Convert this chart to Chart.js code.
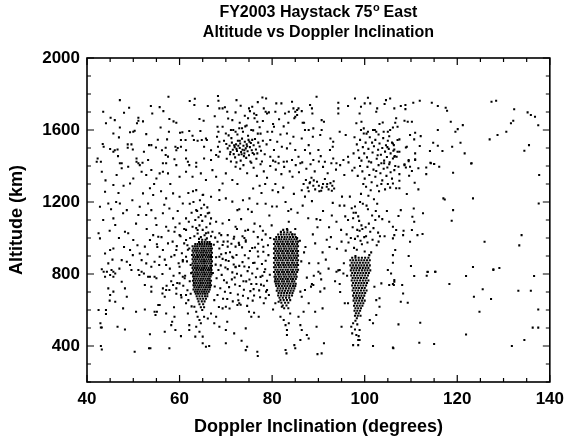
<!DOCTYPE html>
<html>
<head>
<meta charset="utf-8">
<script src="https://cdn.jsdelivr.net/npm/chart.js@4.4.0/dist/chart.umd.min.js"></script>
<style>
  html, body { margin: 0; padding: 0; background: #fff; }
</style>
</head>
<body>
<canvas id="chart" width="571" height="439"></canvas>
<script>
// --- Labels ---
const titleLine1 = ['FY2003 Haystack 75', 'o', ' East'];
const titleLine2 = 'Altitude vs Doppler Inclination';
const xTitle = 'Doppler Inclination (degrees)';
const yTitle = 'Altitude (km)';
const xTicks = [40, 60, 80, 100, 120, 140];
const yTicks = [400, 800, 1200, 1600, 2000];

// --- Observations: [inclination (deg), altitude (km)] ---
const upperLeft = [[43.5,1701],[44.1,1637],[43.4,1522],[43.6,1507],[45.1,1668],[46.0,1655],[45.7,1581],[47.1,1766],[48.0,1696],[49.1,1724],[47.1,1614],[46.9,1559],[45.0,1494],[45.7,1479],[46.0,1488],[46.6,1492],[46.7,1455],[48.8,1520],[49.6,1520],[48.8,1501],[49.9,1492],[49.3,1588],[50.0,1590],[50.3,1596],[50.8,1637],[51.1,1668],[51.1,1651],[52.1,1648],[52.8,1577],[53.4,1516],[53.9,1516],[52.3,1479],[53.8,1733],[54.1,1692],[54.9,1503],[55.3,1546],[55.7,1727],[55.9,1614],[56.5,1705],[56.2,1487],[57.0,1501],[57.0,1461],[57.3,1548],[57.6,1785],[57.8,1661],[57.7,1590],[58.7,1648],[59.3,1640],[59.1,1507],[59.6,1500],[59.3,1488],[60.1,1585],[60.6,1587],[60.3,1544],[60.3,1507],[61.3,1544],[61.4,1488],[62.2,1761],[63.3,1774],[63.2,1739],[62.1,1594],[62.8,1568],[63.1,1544],[63.9,1540],[64.3,1661],[65.2,1651],[64.5,1594],[64.8,1544],[65.3,1507],[65.7,1553],[65.9,1544],[66.1,1733],[66.8,1488],[67.6,1676],[68.3,1789],[68.4,1763],[68.6,1720],[68.2,1618],[68.4,1590],[68.1,1563],[68.6,1535],[68.3,1507],[68.7,1479],[68.4,1452],[69.3,1720],[69.8,1726],[70.3,1701],[70.5,1664],[71.4,1655],[72.3,1766],[69.3,1618],[70.0,1581],[71.1,1600],[72.1,1590],[42.3,1442],[43.0,1424],[47.5,1415],[50.7,1442],[51.1,1415],[52.0,1418],[53.2,1433],[56.4,1415],[57.5,1452],[58.9,1437],[61.4,1442],[61.8,1424],[63.6,1418],[65.3,1442],[66.8,1433],[67.9,1461]];

const upperMid = [[72.1,1698],[74.1,1679],[74.8,1665],[75.2,1705],[75.0,1720],[75.7,1729],[76.1,1692],[76.2,1665],[76.8,1646],[76.6,1683],[77.9,1781],[78.7,1775],[78.2,1720],[78.6,1701],[78.9,1692],[79.3,1698],[80.9,1748],[82.0,1748],[80.7,1701],[80.2,1633],[80.4,1618],[80.0,1590],[82.8,1692],[83.6,1701],[84.3,1757],[84.6,1720],[85.0,1701],[85.4,1711],[85.7,1720],[85.4,1683],[85.0,1674],[84.8,1665],[86.4,1705],[86.6,1640],[86.9,1640],[87.1,1600],[87.9,1600],[88.2,1739],[88.6,1720],[88.7,1692],[89.6,1785],[90.7,1655],[91.2,1646],[90.7,1600],[90.4,1572],[88.9,1609],[88.8,1563],[92.6,1553],[93.2,1535],[93.1,1507],[94.6,1590],[95.9,1572],[94.3,1751],[94.3,1720],[94.3,1692],[96.4,1733],[97.9,1775],[98.9,1692],[99.2,1729],[100.0,1748],[100.7,1779],[101.2,1748],[102.5,1701],[102.7,1720],[104.3,1744],[104.6,1766],[105.5,1775],[106.4,1720],[106.8,1665],[98.2,1637],[99.3,1646],[99.8,1609],[99.8,1581],[100.7,1590],[101.8,1600],[102.5,1590],[103.2,1633],[103.9,1642],[105.0,1590],[105.5,1600],[106.1,1614],[79.6,1544],[81.1,1535],[82.1,1507],[83.2,1498],[83.9,1525],[85.0,1489],[85.7,1451],[87.1,1489],[88.2,1470],[88.9,1433],[90.0,1489],[90.5,1455],[91.4,1424],[92.5,1489],[93.2,1442],[93.9,1415],[95.4,1433],[96.4,1451],[80.4,1489],[81.4,1451],[82.5,1424],[84.3,1433],[86.1,1415],[87.9,1516],[84.6,1563],[83.2,1581],[86.4,1553],[80.7,1424],[79.6,1451],[73.0,1640],[73.5,1610],[74.5,1625],[75.5,1600],[77.3,1615],[78.0,1650],[79.0,1590],[73.2,1735],[76.9,1755],[77.5,1580],[81.5,1660],[82.5,1620],[83.5,1640],[81.8,1575]];

const upperRight = [[107.8,1733],[108.8,1739],[108.8,1716],[110.5,1751],[111.9,1762],[114.5,1751],[115.8,1733],[117.5,1724],[117.8,1707],[108.6,1651],[109.3,1646],[110.2,1646],[107.1,1618],[106.6,1640],[107.5,1548],[107.1,1544],[109.8,1572],[110.7,1548],[112.1,1566],[110.9,1585],[106.1,1525],[106.3,1516],[106.4,1492],[107.1,1479],[107.5,1479],[106.4,1451],[106.9,1451],[106.1,1442],[108.9,1503],[109.1,1507],[110.9,1470],[111.9,1511],[109.5,1433],[110.9,1437],[108.6,1409],[114.1,1483],[114.8,1529],[115.8,1512],[116.8,1483],[115.8,1600],[118.6,1646],[119.6,1590],[120.1,1605],[121.2,1627],[120.7,1529],[118.9,1507],[121.6,1470],[123.1,1415],[114.3,1415],[115.0,1411],[127.4,1757],[128.4,1762],[132.3,1715],[127.0,1548],[128.7,1572],[130.6,1590],[131.6,1637],[132.1,1651],[135.2,1698],[135.9,1683],[136.8,1674],[137.5,1626],[134.5,1485],[135.5,1516]];

const midLeft = [[42.1,1424],[43.2,1368],[43.9,1257],[42.8,1174],[44.6,1192],[45.7,1294],[46.1,1072],[45.7,1109],[42.5,1026],[42.8,998],[43.9,914],[45.0,933],[45.7,942],[44.6,859],[43.2,826],[44.3,813],[45.3,822],[47.1,1415],[47.5,1387],[46.4,1350],[48.9,1396],[49.3,1303],[50.0,1331],[47.1,1192],[47.8,1137],[48.6,1155],[48.9,1026],[48.2,1035],[50.0,989],[49.3,933],[47.5,877],[48.6,868],[49.3,850],[50.7,1424],[51.4,1405],[51.8,1368],[52.8,1350],[53.9,1378],[55.0,1331],[55.7,1359],[56.4,1368],[57.5,1359],[52.1,1248],[53.6,1276],[54.3,1239],[53.2,1192],[51.4,1174],[51.1,1128],[52.8,1128],[53.9,1155],[55.0,1072],[55.4,1007],[54.3,1016],[53.6,989],[52.5,952],[51.4,914],[51.8,877],[52.8,859],[53.9,840],[51.1,822],[54.6,868],[55.7,896],[57.1,1415],[59.3,1405],[60.0,1340],[61.4,1368],[62.1,1405],[58.6,1248],[57.1,1220],[60.0,1229],[60.7,1192],[57.8,1164],[56.4,1137],[58.6,1109],[60.0,1081],[61.4,1109],[57.1,1063],[58.9,1035],[60.0,1016],[57.5,970],[56.4,933],[59.3,933],[58.2,896],[60.7,877],[57.1,850],[60.0,840],[61.4,989],[62.1,942],[61.4,896],[63.6,1396],[62.8,1340],[64.6,1359],[65.7,1322],[67.1,1377],[67.9,1340],[68.6,1266],[69.3,1303],[70.0,1359],[71.4,1322],[72.1,1396],[63.6,1266],[65.0,1239],[66.8,1229],[68.6,1211],[70.0,1220],[71.4,1202],[72.5,1155],[63.6,1155],[64.6,1128],[66.1,1137],[66.8,1109],[67.9,1090],[69.3,1081],[70.7,1100],[72.1,1063],[62.8,1063],[63.9,1044],[65.7,1026],[67.1,1035],[68.6,1026],[70.4,1016],[71.8,1007],[72.1,952],[70.4,952],[69.3,961],[68.2,979],[71.4,896],[70.0,877],[68.6,896],[72.1,840],[44.0,1320],[46.8,1250],[45.2,1160],[47.9,1290],[49.8,1210],[50.6,1080],[46.9,1000],[44.9,1040],[48.0,950],[50.9,960],[52.9,1050],[54.8,1110],[56.0,1260],[58.0,1300],[59.6,1150],[61.9,1250],[61.0,1050],[56.7,1185],[54.5,1300],[46.3,1200],[43.5,1100],[45.5,880],[47.0,830],[49.9,905],[53.1,910],[55.1,965]];

const midMidTop = [[72.3,1420],[73.1,1385],[73.8,1405],[74.6,1360],[75.3,1425],[76.0,1390],[76.7,1345],[77.5,1410],[78.2,1370],[78.9,1335],[79.6,1400],[80.2,1430],[80.8,1380],[81.4,1415],[82.0,1355],[82.6,1395],[83.2,1425],[83.8,1370],[84.4,1340],[85.1,1405],[85.8,1365],[86.5,1420],[87.4,1385],[88.3,1410],[89.2,1370],[90.1,1425],[91.0,1395],[92.0,1360],[92.8,1415],[93.8,1380],[94.7,1405],[95.6,1350],[96.5,1420],[97.3,1375]];

const midMid = [[72.5,1300],[81.3,1255],[88.2,1310],[75.1,1220],[93.4,1275],[78.6,1190],[84.7,1245],[91.0,1150],[73.7,1210],[86.4,1265],[80.0,1175],[95.1,1230],[77.3,1290],[89.6,1105],[82.9,1200],[74.8,1160],[92.3,1060],[79.4,1125],[87.1,1230],[94.6,1180],[76.2,1080],[85.5,1140],[81.9,1035],[90.2,1260],[73.3,1105],[88.8,1020],[83.6,1090],[95.8,1120],[78.0,1040],[86.0,985],[92.7,1005],[75.6,1145],[80.7,1300],[94.0,940],[84.1,1160],[90.9,920],[77.7,1250],[87.8,1110],[82.4,1280],[93.1,1195],[72.9,1160],[79.9,1070],[89.3,970],[85.0,1050],[91.6,880],[76.9,1005],[94.9,1045],[88.0,860],[83.2,1050],[90.4,1100],[86.9,920],[92.2,830],[74.2,1040],[95.5,860],[89.0,790],[93.6,760],[87.5,780],[91.3,720],[95.0,980],[86.6,1180],[88.6,1205],[92.9,1125],[94.3,820],[90.0,860],[87.2,950],[89.8,1060],[95.9,930],[91.8,990],[86.3,870],[93.9,1090],[88.4,730],[90.6,770],[94.7,700],[96.2,790],[92.4,950],[85.4,1000],[84.4,1020],[79.6,1000],[77.8,990],[74.0,1000],[76.0,1035],[73.6,1010],[74.8,1045],[72.4,1050],[78.6,1020],[77.4,1065],[81.0,1175],[83.5,1150],[75.9,1275],[78.5,1300],[80.1,1265],[76.8,1190]];

const cluster90 = [[86.8,1300],[87.3,1322],[87.7,1280],[88.1,1305],[88.5,1335],[88.9,1290],[89.3,1270],[89.7,1312],[90.1,1290],[90.6,1262],[91.0,1300],[91.4,1328],[91.8,1285],[92.2,1270],[92.6,1305],[93.0,1290],[93.3,1315],[90.8,1280],[91.9,1300],[89.0,1320],[87.9,1260],[92.9,1262]];

const midRight = [[106.6,1400],[107.3,1396],[108.6,1405],[108.9,1392],[109.8,1396],[109.5,1427],[110.9,1433],[111.6,1387],[113.3,1392],[114.2,1418],[115.0,1411],[116.1,1396],[106.4,1377],[107.5,1355],[110.2,1372],[113.3,1355],[109.6,1346],[106.1,1303],[107.5,1318],[110.8,1307],[106.8,1276],[107.5,1276],[111.6,1270],[109.1,1244],[119.1,1363],[123.0,1414],[117.0,1220],[117.3,1214],[123.4,1220],[137.7,1350],[137.6,1192],[107.8,1155],[110.6,1164],[112.6,1137],[107.3,1122],[110.3,1118],[110.7,1090],[119.1,1155],[118.8,1096],[106.1,1063],[106.8,1044],[108.4,1040],[110.2,1044],[106.4,1016],[108.3,1016],[111.4,1016],[112.5,1022],[106.1,998],[109.8,979],[125.9,979],[133.9,1016],[133.4,959],[106.6,933],[106.1,905],[109.5,900],[106.1,863],[110.0,844],[123.4,839],[127.8,826],[129.1,833],[113.6,811],[115.3,813]];

const lowerLeft = [[42.9,526],[43.0,503],[43.2,503],[43.0,400],[43.2,381],[42.5,600],[44.1,600],[44.1,578],[43.6,813],[43.9,785],[45.0,794],[45.7,785],[46.1,803],[45.7,813],[44.6,720],[45.0,683],[44.9,652],[46.1,646],[45.7,702],[47.5,757],[48.2,720],[48.6,674],[47.8,609],[46.6,507],[48.2,492],[50.3,368],[50.6,590],[49.6,822],[51.3,794],[51.8,813],[52.3,803],[53.2,785],[53.6,785],[54.6,785],[55.0,776],[52.5,739],[53.9,729],[53.9,702],[56.4,720],[56.3,692],[57.1,711],[57.8,711],[58.6,739],[56.8,674],[55.7,628],[55.1,590],[54.8,572],[52.5,603],[54.6,590],[53.6,465],[53.4,387],[53.7,387],[55.4,628],[57.1,581],[56.8,479],[57.8,387],[58.2,516],[58.4,535],[58.9,563],[59.1,489],[60.3,455],[58.8,615],[60.3,683],[59.3,720],[60.0,748],[60.7,785],[61.4,683],[61.8,581],[62.1,516],[62.1,489],[61.4,637],[61.1,776],[63.6,590],[63.9,563],[64.3,544],[64.6,526],[64.3,479],[65.0,452],[65.0,415],[65.7,396],[66.4,400],[63.2,618],[65.3,563],[66.1,553],[63.6,507],[63.4,452],[67.5,526],[67.9,563],[69.3,609],[70.0,618],[70.3,535],[70.0,489],[70.0,415],[71.8,470],[72.5,628],[68.6,507],[66.8,581]];

const lowerMid = [[72.9,637],[74.3,498],[73.4,429],[74.6,396],[74.3,377],[75.5,563],[76.1,585],[77.1,563],[76.8,368],[76.9,344],[75.0,590],[78.2,637],[78.6,665],[78.9,711],[79.3,683],[80.2,603],[80.7,637],[81.4,646],[81.8,563],[82.5,544],[82.9,516],[83.2,489],[83.2,461],[83.6,526],[83.9,581],[82.1,618],[82.9,378],[83.1,359],[84.8,405],[85.0,387],[86.1,433],[86.4,489],[86.1,516],[85.7,563],[86.8,590],[86.4,674],[87.1,711],[87.9,637],[86.1,702],[87.5,461],[87.9,442],[89.3,590],[90.4,702],[90.9,609],[91.2,415],[89.6,507],[90.7,359],[89.8,355],[88.6,744],[88.9,739],[90.0,813],[90.4,803],[94.6,744],[95.4,803],[95.7,637],[96.4,637],[95.0,507],[101.1,544],[101.8,526],[102.5,572],[103.2,618],[102.5,655],[103.2,665],[102.1,729],[103.6,748],[105.3,739],[106.1,744],[106.4,766],[105.7,803],[105.0,822],[101.8,400],[106.2,387],[93.9,813],[94.6,822]];

const lowerRight = [[106.4,757],[106.3,739],[108.1,739],[108.3,692],[107.8,646],[109.3,640],[110.7,789],[113.4,790],[113.6,813],[115.2,813],[118.3,744],[121.9,789],[123.6,674],[125.5,715],[127.3,661],[124.8,590],[127.8,822],[133.2,707],[135.9,707],[136.6,789],[137.5,603],[136.3,502],[137.5,502],[134.5,433],[131.8,400],[107.3,520],[112.0,529],[111.8,418],[115.0,411],[121.9,464],[106.1,391]];

const cluster72High = [[69.6,1540],[70.1,1522],[70.4,1498],[70.8,1512],[71.0,1478],[71.3,1530],[71.5,1490],[71.7,1466],[71.9,1505],[72.2,1520],[72.4,1484],[72.6,1540],[72.8,1462],[73.0,1500],[73.1,1525],[73.3,1478],[73.5,1552],[73.6,1490],[73.8,1512],[74.0,1470],[74.1,1535],[74.3,1498],[74.5,1520],[74.7,1482],[74.9,1545],[75.0,1460],[75.2,1505],[75.4,1528],[75.6,1488],[75.8,1472],[76.0,1515],[76.3,1550],[76.5,1492],[76.8,1470],[77.0,1530],[77.3,1508],[77.6,1485],[78.0,1540],[78.4,1465],[78.8,1520],[70.2,1440],[71.1,1425],[72.0,1448],[73.2,1430],[74.4,1445],[75.5,1418],[76.6,1440],[77.8,1425],[72.5,1575],[73.7,1590],[74.8,1568],[75.9,1598],[76.9,1580],[71.6,1600],[70.6,1570],[72.9,1610],[74.2,1620],[73.4,1465],[74.6,1510],[72.3,1495],[71.2,1555],[75.1,1535],[73.9,1455],[76.1,1465],[70.9,1465],[72.7,1512],[74.0,1488],[73.0,1540],[75.7,1545],[71.8,1515]];

const column104High = [[97.8,1560],[98.3,1520],[98.6,1488],[99.0,1545],[99.3,1430],[99.6,1505],[99.9,1470],[100.2,1530],[100.5,1448],[100.8,1495],[101.1,1560],[101.4,1420],[101.7,1475],[102.0,1510],[102.3,1545],[102.6,1440],[102.9,1490],[103.2,1525],[103.5,1462],[103.8,1500],[104.0,1555],[104.2,1430],[104.4,1480],[104.6,1515],[104.8,1450],[105.0,1540],[105.2,1495],[105.4,1420],[105.6,1470],[105.9,1530],[106.2,1485],[106.5,1455],[103.0,1575],[104.1,1590],[102.2,1600],[100.4,1580],[105.3,1565],[99.2,1600],[101.6,1530],[103.6,1415],[104.9,1505],[102.8,1460],[100.9,1425],[98.8,1445],[97.6,1470],[99.0,1400],[99.5,1370],[100.0,1330],[100.6,1395],[101.0,1350],[101.5,1310],[101.9,1380],[102.3,1340],[102.7,1290],[103.0,1405],[103.4,1360],[103.8,1320],[104.1,1385],[104.4,1270],[104.7,1345],[105.0,1300],[105.3,1410],[105.6,1365],[105.9,1330],[104.2,1415],[103.1,1260],[101.3,1265],[100.3,1285],[102.5,1372],[104.9,1392],[105.5,1280],[99.7,1300],[98.5,1345],[97.8,1390],[103.6,1300]];

const column100Mid = [[96.8,1230],[99.6,1190],[102.4,1150],[97.5,1110],[100.9,1080],[98.4,1045],[103.3,1010],[99.0,1200],[97.2,1165],[101.6,1125],[98.8,1095],[100.2,1060],[102.9,1030],[97.9,995],[100.4,1180],[98.1,1140],[103.8,1105],[99.3,1070],[101.2,1035],[97.0,1000],[102.0,1215],[100.7,1160],[98.6,1120],[101.9,1055],[97.4,1060],[99.9,1005],[102.6,960],[98.3,935],[100.6,975],[97.7,945],[101.4,920],[99.4,965],[98.0,900],[96.5,975],[100.0,925],[101.0,905],[99.5,1050],[97.6,1140],[102.3,1100],[98.9,1040],[100.3,1010],[103.1,1120],[97.9,1175],[96.4,1100],[96.1,1020],[95.6,1180],[104.3,1010],[104.8,1150],[105.3,1090],[103.0,980],[99.1,985],[101.7,990],[98.5,1010],[100.8,1235],[99.2,1245],[102.7,1190]];

const column100Tail = [[97.1,507],[97.5,526],[97.9,492],[98.2,461],[98.9,489],[98.6,433],[98.9,433],[97.5,405],[98.6,405],[98.0,540],[98.4,520],[97.3,470],[98.7,455]];

const region72Low = [[67.4,962],[70.9,921],[74.3,987],[68.9,848],[77.0,897],[72.8,973],[75.2,928],[69.3,884],[78.1,951],[71.4,809],[73.6,866],[76.3,947],[67.9,893],[70.2,752],[74.7,816],[78.6,874],[72.1,838],[69.8,701],[75.9,861],[68.4,822],[77.5,784],[71.7,853],[73.9,712],[76.8,829],[70.6,872],[67.6,731],[74.1,904],[72.6,686],[78.9,763],[69.1,795],[75.5,744],[71.2,968],[73.3,791],[77.2,709],[68.6,942],[76.1,681],[70.4,827],[74.8,665],[72.3,906],[78.3,811],[67.2,806],[69.6,765],[75.0,838],[73.0,733],[71.0,694],[77.8,856],[68.2,683],[76.5,782],[74.4,759],[70.0,916],[72.9,845],[78.7,702],[69.4,662],[75.7,803],[71.9,781],[67.8,852],[73.7,679],[76.9,925],[70.7,727],[74.9,887],[68.8,721],[77.4,671],[72.4,801],[75.3,705],[69.9,836],[78.2,735],[71.5,648],[73.5,948],[76.6,744],[68.0,776],[74.6,623],[70.3,661],[72.0,742],[77.9,790],[69.0,910],[75.8,652],[71.3,770],[73.2,629],[76.2,862],[67.5,655],[74.0,842],[70.8,608],[78.5,826],[72.7,654],[68.5,617],[76.0,716],[79.2,905],[79.5,796],[79.1,960],[67.7,1002],[69.0,1016],[70.4,981],[71.7,996],[72.9,961],[74.3,979],[75.7,944],[77.0,968],[78.1,924],[73.8,760],[71.6,890],[69.5,980],[75.1,769],[77.6,741]];

const region58 = [[58.5,980],[59.4,955],[60.2,1010],[61.0,970],[61.8,935],[62.3,1000],[58.9,905],[60.5,915],[61.6,870],[62.4,850],[59.8,860],[57.9,830],[58.7,790],[60.0,805],[61.2,790],[62.2,760],[59.5,750],[60.8,735],[61.7,710],[62.4,690],[58.2,760],[57.2,735],[56.3,800],[55.6,850],[56.8,880],[55.2,950],[56.1,1005],[57.6,1040],[59.1,1060],[61.4,1045],[62.0,1090],[62.6,1140],[62.2,1190],[61.7,960],[60.7,870],[62.5,805],[61.9,655],[60.4,670],[59.3,690],[62.6,620]];

const above65 = [[63.2,1010],[63.9,1025],[64.6,1005],[65.4,1015],[66.2,1030],[63.6,1055],[64.3,1070],[65.0,1045],[65.8,1060],[66.6,1080],[63.4,1100],[64.1,1115],[64.9,1095],[65.6,1120],[66.4,1140],[63.8,1150],[64.7,1165],[65.3,1185],[66.0,1170],[63.0,1200],[64.4,1210],[65.1,1240],[62.9,1260],[66.8,1010],[64.2,995],[65.9,998]];

// Dense cores: one altitude (km) per row, with the inclinations read along it
const core65Rows = [
  [990,[64.9,65.6]],
  [978,[64.2,64.8,65.4,66.0,66.5]],
  [966,[63.4,63.9,64.4,64.9,65.4,65.9,66.4,66.8]],
  [954,[62.8,63.3,63.8,64.3,64.8,65.3,65.8,66.3,66.8]],
  [942,[63.0,63.5,64.0,64.6,65.1,65.6,66.1,66.6,67.0]],
  [930,[62.8,63.3,63.8,64.3,64.8,65.3,65.8,66.3,66.8]],
  [918,[63.0,63.6,64.1,64.6,65.1,65.6,66.0,66.5,67.0]],
  [906,[62.7,63.2,63.8,64.3,64.8,65.3,65.8,66.3,66.8]],
  [894,[63.0,63.5,64.0,64.5,65.0,65.6,66.1,66.6,67.0]],
  [882,[62.8,63.3,63.8,64.3,64.8,65.3,65.8,66.3,66.8]],
  [870,[63.0,63.5,64.1,64.6,65.1,65.5,66.0,66.5,67.0]],
  [858,[62.8,63.3,63.8,64.3,64.8,65.3,65.8,66.3,66.8]],
  [846,[63.0,63.5,64.0,64.5,65.0,65.5,66.0,66.6,67.0]],
  [834,[62.8,63.3,63.8,64.3,64.8,65.3,65.8,66.3,66.8]],
  [822,[63.0,63.6,64.1,64.6,65.1,65.6,66.1,66.5,66.9]],
  [810,[62.8,63.3,63.8,64.3,64.8,65.3,65.8,66.3,66.8]],
  [798,[63.0,63.5,64.0,64.5,65.0,65.5,66.0,66.5,66.9]],
  [786,[62.9,63.3,63.8,64.3,64.8,65.3,65.8,66.3,66.7]],
  [774,[63.1,63.6,64.1,64.6,65.1,65.6,66.1,66.5]],
  [762,[62.9,63.4,63.9,64.4,64.9,65.4,65.9,66.4,66.8]],
  [750,[63.1,63.6,64.1,64.6,65.1,65.6,66.1,66.6]],
  [738,[63.0,63.4,63.9,64.4,64.9,65.4,65.9,66.4,66.8]],
  [726,[63.2,63.7,64.2,64.7,65.2,65.7,66.2,66.6]],
  [714,[63.0,63.5,64.0,64.5,65.0,65.5,66.0,66.5]],
  [702,[63.3,63.8,64.3,64.8,65.3,65.8,66.3]],
  [690,[63.5,64.0,64.5,65.0,65.5,66.0]],
  [676,[63.7,64.3,64.9,65.5,66.0]],
  [662,[63.9,64.5,65.1,65.7]],
  [648,[64.1,64.8,65.4]],
  [632,[64.3,65.1]],
  [615,[64.6,65.3]],
  [600,[64.9]]
];

const core83Rows = [
  [1045,[82.4,83.3]],
  [1032,[81.9,82.6,83.3,84.0]],
  [1019,[81.3,81.9,82.5,83.1,83.7,84.3,84.9]],
  [1006,[80.9,81.5,82.1,82.7,83.3,83.9,84.5,85.1]],
  [993,[80.4,80.9,81.5,82.0,82.6,83.1,83.7,84.2,84.8,85.3]],
  [980,[80.7,81.2,81.8,82.3,82.9,83.4,84.0,84.5,85.1,85.6]],
  [967,[80.4,81.0,81.5,82.1,82.6,83.2,83.7,84.3,84.8,85.4]],
  [954,[80.7,81.3,81.8,82.4,82.9,83.5,84.0,84.6,85.1,85.6]],
  [941,[80.4,80.9,81.5,82.0,82.6,83.1,83.7,84.2,84.8,85.3]],
  [928,[80.7,81.2,81.8,82.3,82.9,83.4,84.0,84.5,85.1,85.6]],
  [915,[80.4,81.0,81.5,82.1,82.6,83.2,83.7,84.3,84.8,85.4]],
  [902,[80.7,81.3,81.8,82.4,82.9,83.5,84.0,84.6,85.1,85.6]],
  [889,[80.4,80.9,81.5,82.0,82.6,83.1,83.7,84.2,84.8,85.3]],
  [876,[80.7,81.2,81.8,82.3,82.9,83.4,84.0,84.5,85.1,85.6]],
  [863,[80.4,81.0,81.5,82.1,82.6,83.2,83.7,84.3,84.8,85.4]],
  [850,[80.7,81.3,81.8,82.4,82.9,83.5,84.0,84.6,85.1,85.6]],
  [837,[80.4,80.9,81.5,82.0,82.6,83.1,83.7,84.2,84.8,85.3]],
  [824,[80.7,81.2,81.8,82.3,82.9,83.4,84.0,84.5,85.1,85.6]],
  [811,[80.4,81.0,81.5,82.1,82.6,83.2,83.7,84.3,84.8,85.4]],
  [798,[80.7,81.3,81.8,82.4,82.9,83.5,84.0,84.6,85.1]],
  [785,[80.5,80.9,81.5,82.0,82.6,83.1,83.7,84.2,84.8,85.3]],
  [772,[80.7,81.2,81.8,82.3,82.9,83.4,84.0,84.5,85.1]],
  [759,[80.6,81.0,81.5,82.1,82.6,83.2,83.7,84.3,84.8]],
  [746,[80.8,81.3,81.8,82.4,82.9,83.5,84.0,84.6,85.1]],
  [733,[80.9,81.5,82.1,82.7,83.3,83.9,84.5,85.0]],
  [720,[81.2,81.8,82.4,83.0,83.6,84.2,84.8]],
  [707,[81.0,81.6,82.2,82.8,83.4,84.0,84.6]],
  [694,[81.4,82.0,82.6,83.2,83.8,84.4]],
  [681,[81.3,81.9,82.5,83.1,83.7,84.3]],
  [668,[81.6,82.3,83.0,83.7]],
  [655,[81.8,82.5,83.2,83.9]],
  [640,[82.0,82.8,83.5]],
  [625,[82.3,83.1]],
  [610,[82.6,83.5]]
];

const core100Rows = [
  [890,[97.3,98.0,98.7,99.4,100.1,100.8]],
  [876,[96.9,97.5,98.1,98.7,99.3,99.9,100.5,101.1]],
  [862,[97.2,97.8,98.4,99.0,99.6,100.2,100.8]],
  [848,[96.9,97.5,98.1,98.7,99.3,99.9,100.5,101.1]],
  [834,[97.2,97.8,98.4,99.0,99.6,100.2,100.8]],
  [820,[97.0,97.6,98.2,98.8,99.4,100.0,100.6,101.2]],
  [806,[97.3,97.9,98.5,99.1,99.7,100.3,100.9]],
  [792,[97.1,97.7,98.3,98.9,99.5,100.1,100.7]],
  [778,[97.4,98.0,98.6,99.2,99.8,100.4]],
  [764,[97.2,97.8,98.4,99.0,99.6,100.2,100.8]],
  [750,[97.5,98.1,98.7,99.3,99.9,100.5]],
  [736,[97.3,97.9,98.5,99.1,99.7,100.3]],
  [722,[97.6,98.2,98.8,99.4,100.0]],
  [708,[97.4,98.0,98.6,99.2,99.8,100.4]],
  [694,[97.7,98.3,98.9,99.5,100.1]],
  [680,[97.5,98.1,98.7,99.3,99.9]],
  [666,[97.8,98.4,99.0,99.6]],
  [652,[97.6,98.2,98.8,99.4,100.0]],
  [638,[97.9,98.5,99.1,99.7]],
  [624,[97.7,98.3,98.9,99.5]],
  [610,[98.0,98.6,99.2]],
  [596,[97.8,98.4,99.0]],
  [582,[98.1,98.7]],
  [568,[97.9,98.5,99.1]],
  [554,[98.3]]
];

// --- Build scatter data ---
const fromRows = rows => rows.flatMap(([alt, incs]) => incs.map(inc => [inc, alt]));
const allPoints = [].concat(
  upperLeft, upperMid, upperRight, midLeft, midMidTop, midMid, cluster90, midRight,
  lowerLeft, lowerMid, lowerRight, cluster72High, column104High, column100Mid,
  column100Tail, region72Low, region58, above65,
  fromRows(core65Rows), fromRows(core83Rows), fromRows(core100Rows)
).map(([x, y]) => ({ x, y }));

const FONT = "'Liberation Sans', Arial, Helvetica, sans-serif";

// Title with a superscript "o", centred over the plot
const titlePlugin = {
  id: 'twoLineTitle',
  afterDraw(chart) {
    const { ctx, chartArea } = chart;
    const cx = (chartArea.left + chartArea.right) / 2;
    const big = 'bold 16px ' + FONT;
    const small = 'bold 11px ' + FONT;
    ctx.save();
    ctx.fillStyle = '#000';
    ctx.textBaseline = 'middle';
    ctx.textAlign = 'left';
    ctx.font = big;
    const wa = ctx.measureText(titleLine1[0]).width;
    const wb = ctx.measureText(titleLine1[2]).width;
    ctx.font = small;
    const ws = ctx.measureText(titleLine1[1]).width;
    let x = cx - (wa + ws + wb) / 2;
    ctx.font = big;
    ctx.fillText(titleLine1[0], x, 13);
    x += wa;
    ctx.font = small;
    ctx.fillText(titleLine1[1], x + 0.5, 8);
    x += ws;
    ctx.font = big;
    ctx.fillText(titleLine1[2], x, 13);
    ctx.textAlign = 'center';
    ctx.fillText(titleLine2, cx, 33);
    ctx.restore();
  }
};

// Box round the plot, with inward tick marks on all four sides
const framePlugin = {
  id: 'frame',
  afterDraw(chart) {
    const { ctx, chartArea: a, scales: { x, y } } = chart;
    ctx.save();
    ctx.strokeStyle = '#000';
    ctx.lineWidth = 1.2;
    ctx.beginPath();
    for (let v = 40; v <= 140; v += 5) {
      const px = x.getPixelForValue(v);
      const len = v % 20 === 0 ? 7 : 4;
      ctx.moveTo(px, a.bottom); ctx.lineTo(px, a.bottom - len);
      ctx.moveTo(px, a.top); ctx.lineTo(px, a.top + len);
    }
    for (let v = 200; v <= 2000; v += 100) {
      const py = y.getPixelForValue(v);
      const len = v % 400 === 0 ? 7 : 4;
      ctx.moveTo(a.left, py); ctx.lineTo(a.left + len, py);
      ctx.moveTo(a.right, py); ctx.lineTo(a.right - len, py);
    }
    ctx.stroke();
    ctx.lineWidth = 1.6;
    ctx.strokeRect(a.left, a.top, a.right - a.left, a.bottom - a.top);
    ctx.restore();
  }
};

new Chart(document.getElementById('chart').getContext('2d'), {
  type: 'scatter',
  data: {
    datasets: [{
      data: allPoints,
      pointStyle: 'rect',
      pointRadius: 1.45,
      pointBorderWidth: 0,
      pointBackgroundColor: '#000',
      borderColor: '#000'
    }]
  },
  options: {
    responsive: false,
    animation: false,
    devicePixelRatio: 1,
    layout: { padding: { top: 58, right: 17, left: 0, bottom: 0 } },
    plugins: { legend: { display: false }, tooltip: { enabled: false }, title: { display: false } },
    scales: {
      x: {
        type: 'linear',
        position: 'bottom',
        min: 40,
        max: 140,
        afterBuildTicks: s => { s.ticks = xTicks.map(v => ({ value: v })); },
        afterFit: s => { s.height = 57; },
        grid: { display: false, drawTicks: false },
        border: { display: false },
        ticks: { color: '#000', padding: 7, maxRotation: 0, autoSkip: false, callback: v => String(v), font: { family: FONT, size: 17, weight: 'bold' } },
        title: { display: true, text: xTitle, color: '#000', padding: { top: 0, bottom: 1 }, font: { family: FONT, size: 18, weight: 'bold' } }
      },
      y: {
        type: 'linear',
        position: 'left',
        min: 200,
        max: 2000,
        afterBuildTicks: s => { s.ticks = yTicks.map(v => ({ value: v })); },
        afterFit: s => { s.width = 87; },
        grid: { display: false, drawTicks: false },
        border: { display: false },
        ticks: { color: '#000', padding: 7, autoSkip: false, callback: v => String(v), font: { family: FONT, size: 17, weight: 'bold' } },
        title: { display: true, text: yTitle, color: '#000', padding: { top: 6, bottom: 0 }, font: { family: FONT, size: 18, weight: 'bold' } }
      }
    }
  },
  plugins: [titlePlugin, framePlugin]
});
</script>
</body>
</html>
